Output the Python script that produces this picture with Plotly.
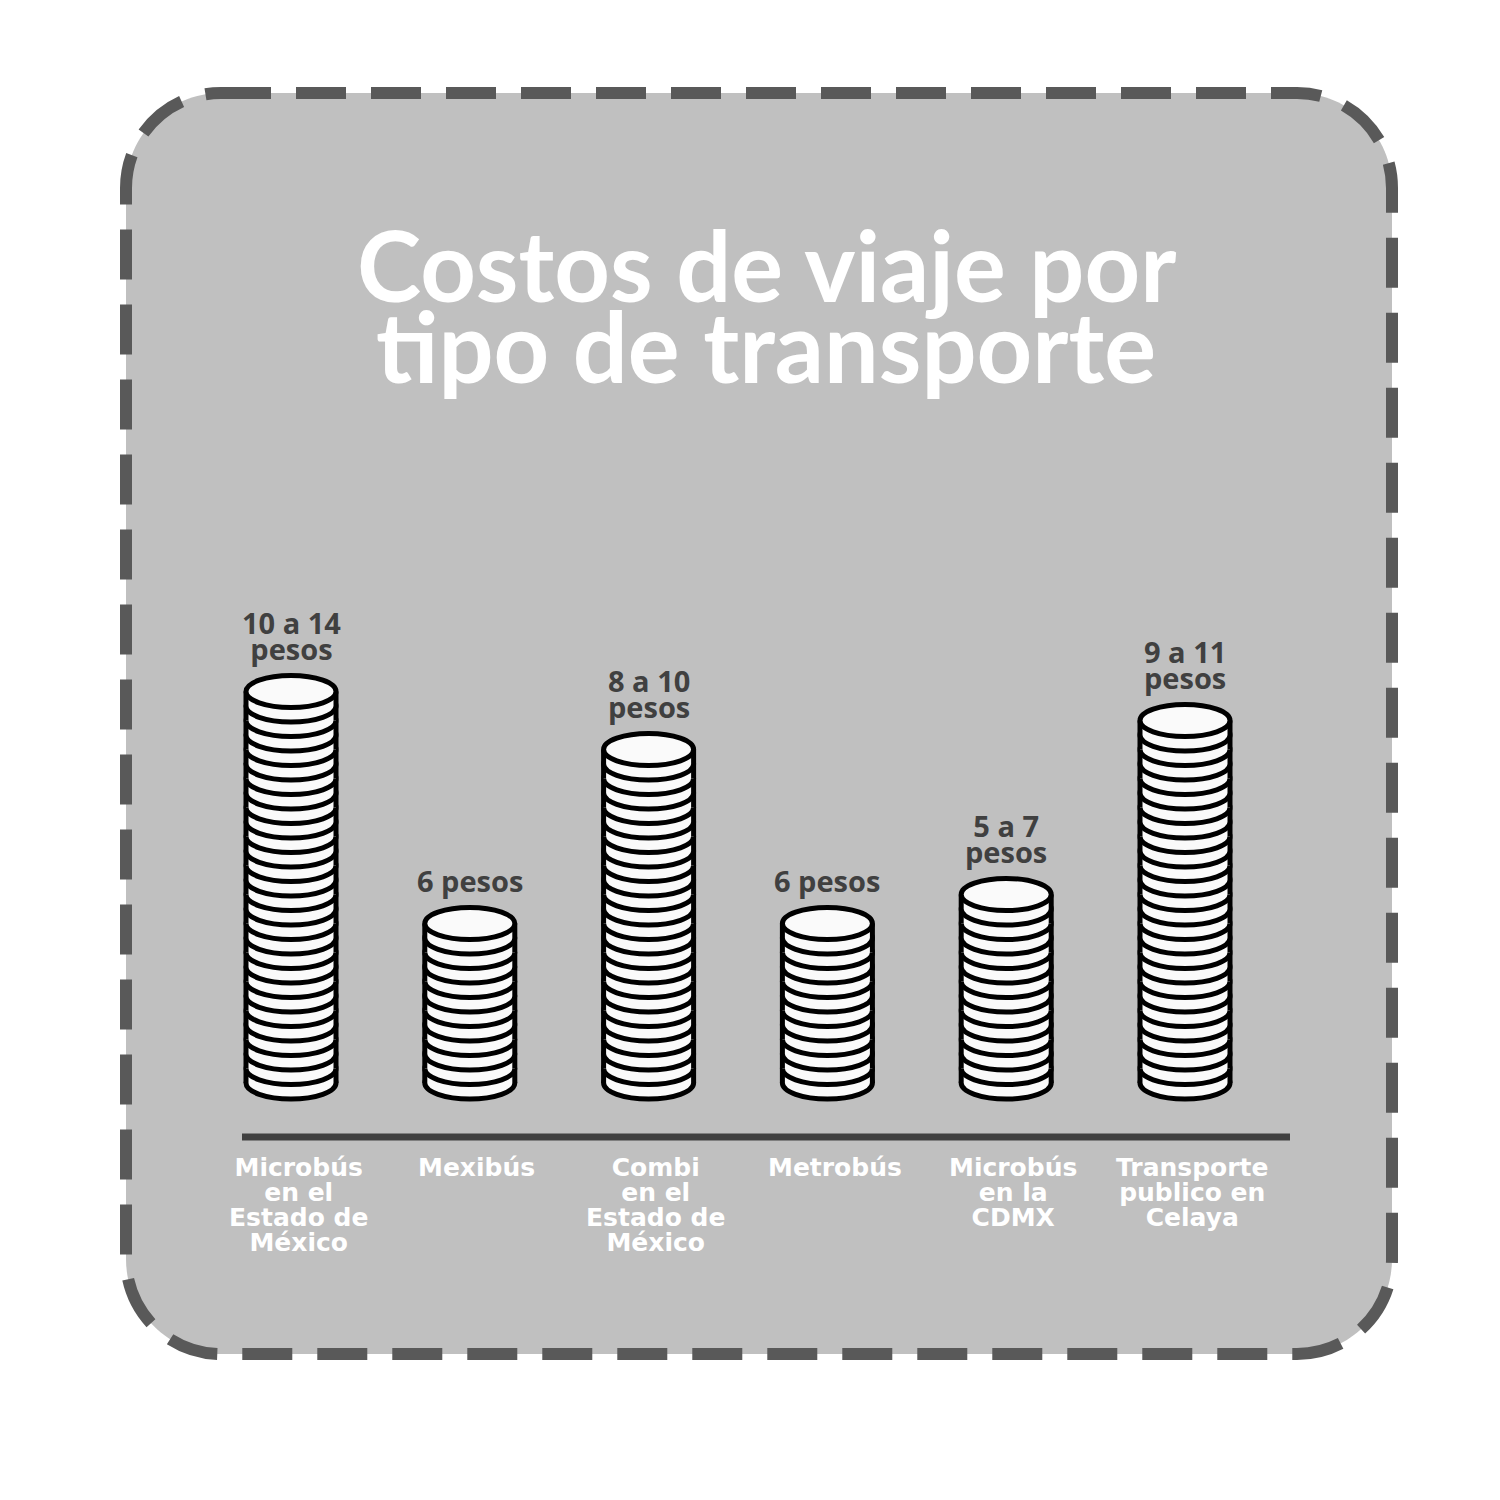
import plotly.graph_objects as go

# ---------------- data ----------------
categories = [
    ["Microbús", "en el", "Estado de", "México"],
    ["Mexibús"],
    ["Combi", "en el", "Estado de", "México"],
    ["Metrobús"],
    ["Microbús", "en la", "CDMX"],
    ["Transporte", "publico en", "Celaya"],
]
value_labels = [
    ["10 a 14", "pesos"],
    ["6 pesos"],
    ["8 a 10", "pesos"],
    ["6 pesos"],
    ["5 a 7", "pesos"],
    ["9 a 11", "pesos"],
]
coin_counts = [27, 11, 23, 11, 13, 25]
title_lines = ["Costos de viaje por", "tipo de transporte"]

# ---------------- geometry / style ----------------
W = H = 1500
PX_PER_X = 178.8   # pixels per category step
X0_PX = 291        # pixel x of first category
PX_PER_Y = 14.5    # pixels per coin
Y0_PX = 1083       # pixel y of stack base (bottom coin centre)

x_range = [-X0_PX / PX_PER_X, (W - X0_PX) / PX_PER_X]
y_range = [(Y0_PX - H) / PX_PER_Y, Y0_PX / PX_PER_Y]

RX = 45 / PX_PER_X
RY = 16 / PX_PER_Y
COIN_FILL = "#fafafa"
COIN_LINE = "#000000"
LW = 5

PANEL_FILL = "#c0c0c0"
PANEL_LINE = "#595959"
DARK = "#404040"


def py(v):
    """pixel y -> paper y"""
    return 1 - v / H


def pxp(v):
    return v / W


def tight_lines(lines, size_px, gap_px):
    """multi-line text with a tight line gap (plotly spaces lines at 1.3em of the base font)"""
    body = "<br>".join(f'<span style="font-size:{size_px}px"><b>{t}</b></span>' for t in lines)
    return body, gap_px / 1.3


shapes = []

# rounded dashed panel (paper coords)
L, R, T, B, r = 126, 1392, 93, 1354, 95
k = 0.5523 * r
path = (
    f"M {pxp(L + r)},{py(T)} L {pxp(R - r)},{py(T)} "
    f"C {pxp(R - r + k)},{py(T)} {pxp(R)},{py(T + r - k)} {pxp(R)},{py(T + r)} "
    f"L {pxp(R)},{py(B - r)} "
    f"C {pxp(R)},{py(B - r + k)} {pxp(R - r + k)},{py(B)} {pxp(R - r)},{py(B)} "
    f"L {pxp(L + r)},{py(B)} "
    f"C {pxp(L + r - k)},{py(B)} {pxp(L)},{py(B - r + k)} {pxp(L)},{py(B - r)} "
    f"L {pxp(L)},{py(T + r)} "
    f"C {pxp(L)},{py(T + r - k)} {pxp(L + r - k)},{py(T)} {pxp(L + r)},{py(T)} Z"
)
shapes.append(dict(type="path", xref="paper", yref="paper", path=path,
                   fillcolor=PANEL_FILL,
                   line=dict(color=PANEL_LINE, width=12, dash="50px,25px"),
                   layer="below"))

# baseline
base_y = (Y0_PX - 1137) / PX_PER_Y
shapes.append(dict(type="line", xref="paper", yref="y",
                   x0=pxp(242), x1=pxp(1290), y0=base_y, y1=base_y,
                   line=dict(color=DARK, width=7)))

# coin stacks
for i, n in enumerate(coin_counts):
    for c in range(n):
        shapes.append(dict(type="circle", xref="x", yref="y",
                           x0=i - RX, x1=i + RX, y0=c - RY, y1=c + RY,
                           fillcolor=COIN_FILL, line=dict(color=COIN_LINE, width=LW)))
        shapes.append(dict(type="rect", xref="x", yref="y",
                           x0=i - RX, x1=i + RX, y0=c, y1=c + 1,
                           fillcolor=COIN_FILL, line=dict(width=0)))
        shapes.append(dict(type="path", xref="x", yref="y",
                           path=f"M {i - RX},{c} L {i - RX},{c + 1} M {i + RX},{c} L {i + RX},{c + 1}",
                           line=dict(color=COIN_LINE, width=LW)))
    shapes.append(dict(type="circle", xref="x", yref="y",
                       x0=i - RX, x1=i + RX, y0=n - RY, y1=n + RY,
                       fillcolor=COIN_FILL, line=dict(color=COIN_LINE, width=LW)))

annotations = []

# title
for line, ypix in zip(title_lines, [265, 345]):
    annotations.append(dict(text=line, xref="paper", yref="paper",
                            x=pxp(766), y=py(ypix), xanchor="center", yanchor="middle",
                            showarrow=False,
                            font=dict(family="Lato", size=97, color="white", weight="bold")))

# value labels
for i, (lines, n) in enumerate(zip(value_labels, coin_counts)):
    nl = len(lines)
    text, base = tight_lines(lines, 29, 26)
    off_px = 43 + (nl - 1) * 13
    annotations.append(dict(text=text, xref="x", yref="y",
                            x=i, y=n + off_px / PX_PER_Y,
                            xanchor="center", yanchor="middle", showarrow=False,
                            font=dict(family="Open Sans", size=base, color=DARK)))

# category labels
for i, lines in enumerate(categories):
    nl = len(lines)
    text, base = tight_lines(lines, 25, 25)
    ypix = 1167 + (nl - 1) * 12.5
    annotations.append(dict(text=text, xref="x", yref="y",
                            x=i + 0.04, y=(Y0_PX - ypix) / PX_PER_Y,
                            xanchor="center", yanchor="middle", showarrow=False,
                            font=dict(family="DejaVu Sans", size=base, color="white")))

fig = go.Figure()
fig.update_layout(
    width=W, height=H,
    margin=dict(l=0, r=0, t=0, b=0),
    paper_bgcolor="white", plot_bgcolor="rgba(0,0,0,0)",
    xaxis=dict(range=x_range, visible=False, fixedrange=True),
    yaxis=dict(range=y_range, visible=False, fixedrange=True),
    shapes=shapes, annotations=annotations, showlegend=False,
)
fig.write_html("out.html")
